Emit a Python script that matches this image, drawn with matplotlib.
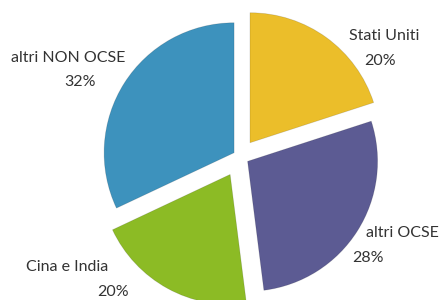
import matplotlib
matplotlib.use("Agg")
import matplotlib.pyplot as plt

categories = ["Stati Uniti", "altri OCSE", "Cina e India", "altri NON OCSE"]
values = [20, 28, 20, 32]
pct_labels = ["20%", "28%", "20%", "32%"]
colors = ["#EBBE2A", "#5C5B93", "#8CBB25", "#3D92BD"]

W, H = 443, 300
fig = plt.figure(figsize=(W / 100, H / 100), dpi=100)
ax = fig.add_axes([0, 0, 1, 1])

R = 130
explode = [17, 9, 20.5, 7]  # offsets in data (pixel) units
ax.pie(values, colors=colors, startangle=90, counterclock=False,
       radius=R, center=(240, H - 156.5), explode=explode,
       wedgeprops=dict(linewidth=0.6, edgecolor="#00000022"), frame=True)
ax.set_xlim(0, W)
ax.set_ylim(0, H)
ax.set_aspect("equal")
ax.axis("off")

# label positions in pixel coords (x, y from top): name line, pct line
label_pos = [((384, 36), (380, 61)),
             ((402, 233), (368, 258)),
             ((67, 267), (113, 292)),
             ((68, 58), (80, 82))]
font = dict(family=["Lato", "DejaVu Sans"], fontsize=11.5, color="#333333",
            ha="center", va="center")
for name, pct, ((nx, ny), (px, py)) in zip(categories, pct_labels, label_pos):
    ax.text(nx, H - ny, name, **font)
    ax.text(px, H - py, pct, **font)

fig.savefig("out.png", dpi=100)
